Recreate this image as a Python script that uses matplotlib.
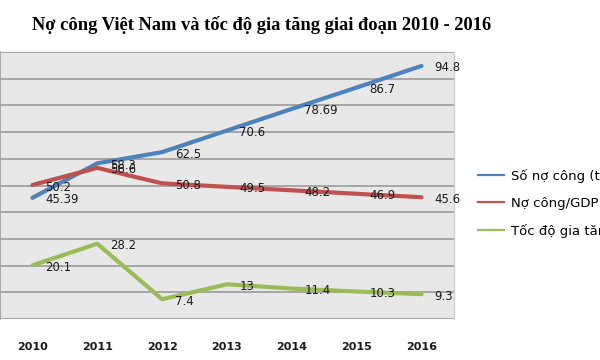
import matplotlib
matplotlib.use("Agg")
import matplotlib.pyplot as plt

years = ["2010", "2011", "2012", "2013", "2014", "2015", "2016"]
debt = [45.39, 58.3, 62.5, 70.6, 78.69, 86.7, 94.8]
debt_gdp = [50.2, 56.6, 50.8, 49.5, 48.2, 46.9, 45.6]
growth = [20.1, 28.2, 7.4, 13, 11.4, 10.3, 9.3]
labels = ["Số nợ công (tỷ USD)", "Nợ công/GDP (%)", "Tốc độ gia tăng (%)"]
colors = ["#4f81bd", "#c0504d", "#9bbb59"]
title = "Nợ công Việt Nam và tốc độ gia tăng giai đoạn 2010 - 2016"

fig = plt.figure(figsize=(6, 3.6), dpi=100)
ax = fig.add_axes([0.0, 1 - 319 / 360, 454 / 600, (319 - 52) / 360])
ax.set_facecolor("#e8e8e8")

x = list(range(len(years)))
handles = []
for series, c, lab in zip([debt, debt_gdp, growth], colors, labels):
    ax.plot(x, series, color=c, lw=3.0, solid_capstyle="round", zorder=3)
    h, = ax.plot([], [], color=c, lw=1.6, label=lab)
    handles.append(h)
    for xi, v in zip(x, series):
        ax.annotate(f"{v:g}", (xi, v), xytext=(9, -1.5), textcoords="offset points",
                    ha="left", va="center", fontsize=8.5, color="#1a1a1a", zorder=4)

ax.set_xlim(-0.5, len(years) - 0.5)
ax.set_ylim(0, 100)
ax.set_yticks(range(0, 101, 10))
ax.yaxis.grid(True, color="#a6a6a6", lw=1.4)
ax.set_axisbelow(True)
ax.tick_params(axis="y", left=False, labelleft=False)
ax.tick_params(axis="x", bottom=False, pad=13)
ax.set_xticks(x)
ax.set_xticklabels(years, fontsize=8, fontweight="bold", color="#1a1a1a")
for s in ["top", "bottom"]:
    ax.spines[s].set_visible(False)
ax.spines["left"].set_color("#a6a6a6")
ax.spines["left"].set_linewidth(1.4)
ax.spines["right"].set_color("#d0d0d0")
ax.spines["right"].set_linewidth(1.0)

fig.text(262 / 600, 1 - 25 / 360, title, ha="center", va="center",
         family="Liberation Serif", fontweight="bold", fontsize=13.3)

fig.legend(handles=handles, loc="upper left", bbox_to_anchor=(466 / 600, 1 - 157 / 360),
           frameon=False, fontsize=9.5, handlelength=2.0, handletextpad=0.5,
           labelspacing=1.05)

fig.savefig("out.png", dpi=100)
